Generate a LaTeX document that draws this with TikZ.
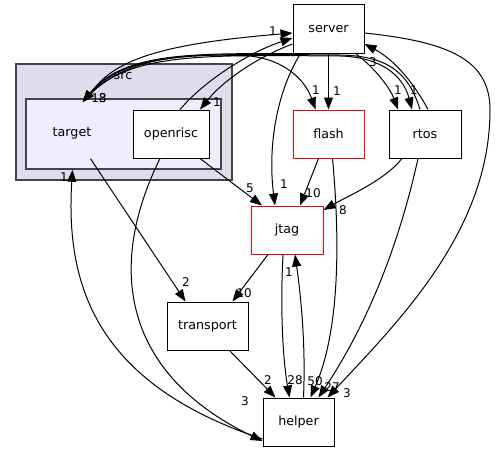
\documentclass[tikz,border=0pt]{standalone}
\usepackage{fontspec}
\setmainfont{DejaVu Sans}
\usetikzlibrary{arrows.meta}
\definecolor{clusterfill}{RGB}{221,221,238}
\definecolor{targetfill}{RGB}{238,238,255}
\definecolor{clusterline}{RGB}{68,68,68}
\tikzstyle{dir box}=[
        draw = black,
        line width = 1pt,
        fill = white,
        minimum height = 48pt,
        inner sep = 0pt,
        rectangle
    ]
\tikzstyle{red box}=[
    dir box,
    draw = red
]
\tikzstyle{cluster}=[
    draw = clusterline,
    line width = 1.5pt,
    inner sep = 0pt,
    rectangle
]
\tikzstyle{dep}=[
    line width = 1pt,
    -{Triangle[length=12pt,width=9pt]}
]
\tikzstyle{lbl}=[inner sep = 0pt, font = \fontsize{12}{14}\selectfont]

\begin{document}
\begin{tikzpicture}[x=1pt, y=-1pt, font=\fontsize{12.7}{15}\selectfont]
        \useasboundingbox (0,0) rectangle (497,452);

        % clusters
        \node[cluster, fill = clusterfill, minimum width = 216pt, minimum height = 116pt] (src) at (124,122) {};
        \node (srclabel) at (123,76) {src};
        \node[cluster, fill = targetfill, minimum width = 195pt, minimum height = 70pt] (target) at (123.5,134) {};
        \node (targetlabel) at (72,133) {target};

        % directories
        \node[dir box, minimum width = 76pt] (openrisc) at (171,134) {openrisc};
        \node[dir box, minimum width = 71pt] (server) at (328.5,29) {server};
        \node[red box, minimum width = 71pt] (flash) at (328.5,134) {flash};
        \node[dir box, minimum width = 72pt] (rtos) at (425,134) {rtos};
        \node[red box, minimum width = 72pt] (jtag) at (287,230) {jtag};
        \node[dir box, minimum width = 81pt] (transport) at (207.5,326) {transport};
        \node[dir box, minimum width = 71pt] (helper) at (298.5,422) {helper};

        % dependencies
        \draw[dep] ([xshift=-36,yshift=-1]target.north) .. controls (108,60) and (160,44) .. ([yshift=-4]server.west) node[lbl] at (273,31) {1};
        \draw[dep] ([xshift=9]openrisc.north) .. controls (205,80) and (250,52) .. ([yshift=-9]server.west);
        \draw[dep] ([yshift=-15]server.west) .. controls (255,58) and (222,82) .. ([xshift=29]openrisc.north) node[lbl] at (217,102) {1};
        \draw[dep] ([xshift=-28]server.south) .. controls (200,54) and (125,50) .. ([xshift=-41,yshift=-4]target.north) node[lbl] at (99,98) {18};
        \draw[dep] ([xshift=-5]rtos.north) .. controls (408,70) and (385,56) .. (340,55) .. controls (200,54) and (128,50) .. ([xshift=-41,yshift=-4]target.north) node[lbl] at (103,98) {3};
        \draw[dep] ([xshift=-39,yshift=-2]target.north) .. controls (125,52) and (200,55) .. (340,56) .. controls (380,57) and (403,75) .. ([xshift=-13]rtos.north) node[lbl] at (414,90) {1};
        \draw[dep] ([xshift=-39,yshift=-2]target.north) .. controls (125,52) and (200,54) .. (250,56) .. controls (285,60) and (305,80) .. ([xshift=-13]flash.north) node[lbl] at (316,90) {1};
        \draw[dep] (server) -- (flash) node[lbl] at (337,91) {1};
        \draw[dep] ([xshift=27]server.south) .. controls (375,68) and (390,88) .. ([xshift=-27]rtos.north) node[lbl] at (398,90) {1};
        \draw[dep] ([xshift=3]rtos.north) .. controls (415,85) and (395,60) .. ([yshift=-15]server.east) node[lbl] at (373,62) {3};
        \draw[dep] ([xshift=-28]server.south) .. controls (275,95) and (268,150) .. ([xshift=-12]jtag.north) node[lbl] at (284,184) {1};
        \draw[dep] ([yshift=-4]server.east) .. controls (450,42) and (490,60) .. (490,110) .. controls (490,230) and (400,320) .. ([xshift=29]helper.north) node[lbl] at (347,393) {3};
        \draw[dep] ([xshift=-33,yshift=11]target.south) -- ([xshift=-22]transport.north) node[lbl] at (186,282) {2};
        \draw[dep] ([xshift=29]openrisc.south) -- ([xshift=-25]jtag.north) node[lbl] at (250,188) {5};
        \draw[dep] ([xshift=-11]openrisc.south) .. controls (105,270) and (125,375) .. ([yshift=-19]helper.west) node[lbl] at (245,401) {3};
        \draw[dep] ([yshift=-17]helper.west) .. controls (100,385) and (65,290) .. ([xshift=-51]target.south) node[lbl] at (64,177) {1};
        \draw[dep] ([xshift=-10]flash.south) -- ([xshift=13]jtag.north) node[lbl] at (313,193) {10};
        \draw[dep] ([xshift=4]flash.south) .. controls (340,240) and (340,330) .. ([xshift=12]helper.north) node[lbl] at (315,381) {50};
        \draw[dep] ([xshift=-23]rtos.south) .. controls (385,180) and (350,195) .. ([yshift=20]jtag.east) node[lbl] at (343,210) {8};
        \draw[dep] ([xshift=-7]rtos.south) .. controls (400,240) and (370,320) .. ([xshift=20]helper.north) node[lbl] at (332,387) {27};
        \draw[dep] ([xshift=-19]jtag.south) -- ([xshift=25]transport.north) node[lbl] at (244,293) {10};
        \draw[dep] ([xshift=-4]jtag.south) .. controls (280,310) and (283,360) .. ([xshift=-9]helper.north) node[lbl] at (295,380) {28};
        \draw[dep] ([xshift=5]helper.north) .. controls (306,340) and (300,290) .. ([xshift=8]jtag.south) node[lbl] at (289,272) {1};
        \draw[dep] ([xshift=22]transport.south) -- ([xshift=-23]helper.north) node[lbl] at (268,380) {2};

    \end{tikzpicture}
\end{document}
